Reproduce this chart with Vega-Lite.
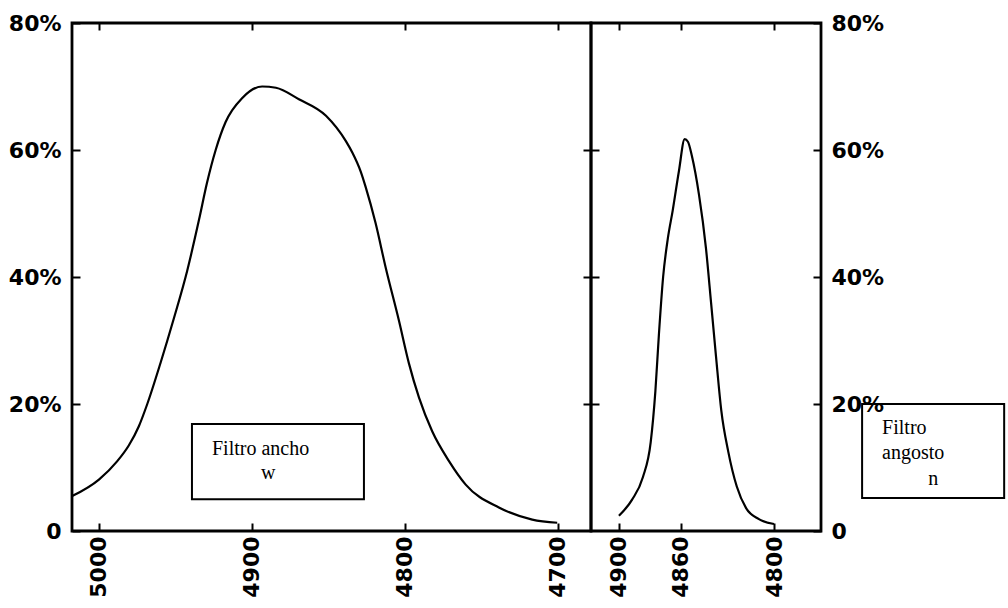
{
  "$schema": "https://vega.github.io/schema/vega-lite/v6.json",
  "background": "white",
  "padding": {"left": 6, "top": 10, "right": 0, "bottom": 0},
  "spacing": 0,
  "bounds": "flush",
  "config": {
    "view": {"stroke": "black", "strokeWidth": 2.8},
    "axis": {"labelFont": "DejaVu Sans", "labelFontSize": 22, "labelFontWeight": "bold", "labelColor": "black", "tickColor": "black", "tickWidth": 2, "domain": false, "grid": false, "title": null}
  },
  "datasets": {
    "wide": [
      {"wavelength": 5017.5, "transmission": 5.5},
      {"wavelength": 5000, "transmission": 8.1},
      {"wavelength": 4988, "transmission": 11},
      {"wavelength": 4980.4, "transmission": 13.5},
      {"wavelength": 4973.9, "transmission": 16.5},
      {"wavelength": 4968.4, "transmission": 20},
      {"wavelength": 4959.7, "transmission": 26.5},
      {"wavelength": 4951, "transmission": 33.5},
      {"wavelength": 4942.3, "transmission": 41},
      {"wavelength": 4934.6, "transmission": 49},
      {"wavelength": 4929.4, "transmission": 54.8},
      {"wavelength": 4923.7, "transmission": 60},
      {"wavelength": 4917.2, "transmission": 64.4},
      {"wavelength": 4906.3, "transmission": 68.2},
      {"wavelength": 4893.3, "transmission": 70},
      {"wavelength": 4884.3, "transmission": 69.8},
      {"wavelength": 4869.3, "transmission": 68},
      {"wavelength": 4851.6, "transmission": 65.4},
      {"wavelength": 4838.6, "transmission": 61.4},
      {"wavelength": 4834.4, "transmission": 59.6},
      {"wavelength": 4828.9, "transmission": 56.6},
      {"wavelength": 4825.7, "transmission": 54.2},
      {"wavelength": 4819.2, "transmission": 48.5},
      {"wavelength": 4812.6, "transmission": 41.5},
      {"wavelength": 4803.9, "transmission": 33.1},
      {"wavelength": 4797.4, "transmission": 26.4},
      {"wavelength": 4790.8, "transmission": 21},
      {"wavelength": 4782.2, "transmission": 15.7},
      {"wavelength": 4771.2, "transmission": 11},
      {"wavelength": 4760.3, "transmission": 7.3},
      {"wavelength": 4738.6, "transmission": 3.7},
      {"wavelength": 4716.8, "transmission": 1.8},
      {"wavelength": 4700.5, "transmission": 1.3}
    ],
    "narrow": [
      {"wavelength": 4900, "transmission": 2.4},
      {"wavelength": 4891.6, "transmission": 4.9},
      {"wavelength": 4884.5, "transmission": 8.5},
      {"wavelength": 4879.5, "transmission": 14},
      {"wavelength": 4876.5, "transmission": 22},
      {"wavelength": 4874.2, "transmission": 31},
      {"wavelength": 4871.5, "transmission": 40},
      {"wavelength": 4868.5, "transmission": 46},
      {"wavelength": 4865.3, "transmission": 50.5},
      {"wavelength": 4861.3, "transmission": 56.7},
      {"wavelength": 4857.6, "transmission": 61.7},
      {"wavelength": 4855.5, "transmission": 61.3},
      {"wavelength": 4852.9, "transmission": 59},
      {"wavelength": 4848.4, "transmission": 53},
      {"wavelength": 4843.9, "transmission": 44.6},
      {"wavelength": 4840.6, "transmission": 36},
      {"wavelength": 4837.4, "transmission": 27.5},
      {"wavelength": 4834, "transmission": 19},
      {"wavelength": 4829.5, "transmission": 12.5},
      {"wavelength": 4824, "transmission": 7},
      {"wavelength": 4818, "transmission": 3.6},
      {"wavelength": 4810, "transmission": 1.9},
      {"wavelength": 4800, "transmission": 1.1}
    ],
    "boxes": [
      {"panel": "w", "wl_start": 4939.2, "wl_end": 4826.8, "pct_top": 16.85, "pct_bottom": 5.0},
      {"panel": "n", "wl_start": 4743.2, "wl_end": 4651.6, "pct_top": 20.0, "pct_bottom": 5.2}
    ],
    "labels": [
      {"panel": "w", "wl": 4926.1, "pct": 12.9, "label": "Filtro ancho"},
      {"panel": "w", "wl": 4894.1, "pct": 9.1, "label": "w"},
      {"panel": "n", "wl": 4730.3, "pct": 16.2, "label": "Filtro"},
      {"panel": "n", "wl": 4730.3, "pct": 12.3, "label": "angosto"},
      {"panel": "n", "wl": 4700.6, "pct": 8.2, "label": "n"}
    ]
  },
  "hconcat": [
    {
      "width": 519,
      "height": 508,
      "layer": [
        {
          "data": {"name": "wide"},
          "mark": {"type": "line", "color": "black", "strokeWidth": 2.2, "interpolate": "monotone"},
          "encoding": {
            "x": {"field": "wavelength", "type": "quantitative",
              "scale": {"domain": [4678.4, 5017.6], "reverse": true, "nice": false, "zero": false},
              "axis": {"orient": "bottom", "values": [5000, 4900, 4800, 4700], "format": "d", "labelAngle": -90, "labelAlign": "right", "labelBaseline": "middle", "tickSize": -8, "labelPadding": 13}},
            "y": {"field": "transmission", "type": "quantitative",
              "scale": {"domain": [0, 80], "nice": false, "zero": true},
              "axis": {"orient": "left", "values": [0, 20, 40, 60, 80], "labelExpr": "datum.value == 0 ? '0' : datum.value + '%'", "tickSize": -8, "labelPadding": 19}}
          }
        },
        {
          "data": {"name": "boxes"},
          "transform": [{"filter": "datum.panel == 'w'"}],
          "mark": {"type": "rect", "fillOpacity": 0, "stroke": "black", "strokeWidth": 2},
          "encoding": {
            "x": {"field": "wl_start", "type": "quantitative",
              "axis": {"orient": "top", "values": [5000, 4900, 4800, 4700], "labels": false, "tickSize": -7}},
            "x2": {"field": "wl_end"},
            "y": {"field": "pct_top", "type": "quantitative",
              "axis": {"orient": "right", "values": [20, 40, 60], "labels": false, "tickSize": -8}},
            "y2": {"field": "pct_bottom"}
          }
        },
        {
          "data": {"name": "labels"},
          "transform": [{"filter": "datum.panel == 'w'"}],
          "mark": {"type": "text", "align": "left", "baseline": "middle", "font": "Liberation Serif", "fontSize": 20, "color": "black"},
          "encoding": {
            "x": {"field": "wl", "type": "quantitative", "axis": null},
            "y": {"field": "pct", "type": "quantitative", "axis": null},
            "text": {"field": "label", "type": "nominal"}
          }
        }
      ],
      "resolve": {"axis": {"x": "independent", "y": "independent"}}
    },
    {
      "width": 230,
      "height": 508,
      "layer": [
        {
          "data": {"name": "narrow"},
          "mark": {"type": "line", "color": "black", "strokeWidth": 2.2, "interpolate": "monotone"},
          "encoding": {
            "x": {"field": "wavelength", "type": "quantitative",
              "scale": {"domain": [4769.7, 4918], "reverse": true, "nice": false, "zero": false},
              "axis": {"orient": "bottom", "values": [4900, 4860, 4800], "format": "d", "labelAngle": -90, "labelAlign": "right", "labelBaseline": "middle", "tickSize": -8, "labelPadding": 13}},
            "y": {"field": "transmission", "type": "quantitative",
              "scale": {"domain": [0, 80], "nice": false, "zero": true},
              "axis": {"orient": "right", "values": [0, 20, 40, 60, 80], "labelExpr": "datum.value == 0 ? '0' : datum.value + '%'", "tickSize": -8, "labelPadding": 18}}
          }
        },
        {
          "data": {"name": "boxes"},
          "transform": [{"filter": "datum.panel == 'n'"}],
          "mark": {"type": "rect", "fillOpacity": 0, "stroke": "black", "strokeWidth": 2},
          "encoding": {
            "x": {"field": "wl_start", "type": "quantitative",
              "axis": {"orient": "top", "values": [4900, 4860, 4800], "labels": false, "tickSize": -7}},
            "x2": {"field": "wl_end"},
            "y": {"field": "pct_top", "type": "quantitative",
              "axis": {"orient": "left", "values": [20, 40, 60], "labels": false, "tickSize": -8}},
            "y2": {"field": "pct_bottom"}
          }
        },
        {
          "data": {"name": "labels"},
          "transform": [{"filter": "datum.panel == 'n'"}],
          "mark": {"type": "text", "align": "left", "baseline": "middle", "font": "Liberation Serif", "fontSize": 20, "color": "black"},
          "encoding": {
            "x": {"field": "wl", "type": "quantitative", "axis": null},
            "y": {"field": "pct", "type": "quantitative", "axis": null},
            "text": {"field": "label", "type": "nominal"}
          }
        }
      ],
      "resolve": {"axis": {"x": "independent", "y": "independent"}}
    }
  ]
}
